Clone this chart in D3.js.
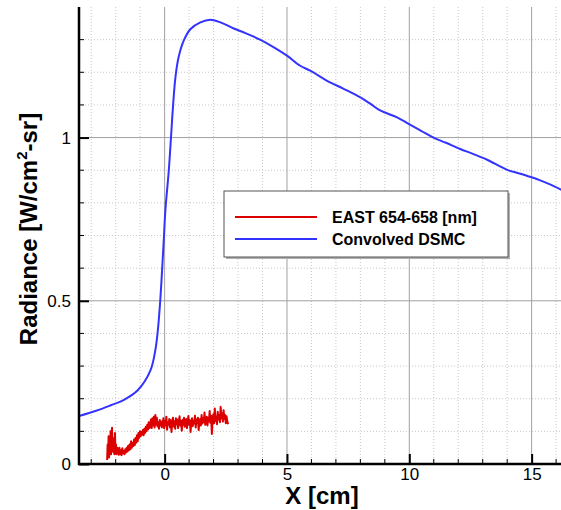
<!DOCTYPE html>
<html>
<head>
<meta charset="utf-8">
<script src="https://cdn.jsdelivr.net/npm/d3@7"></script>
<style>
  body { margin: 0; background: #fff; }
  svg { display: block; font-family: "Liberation Sans", Arial, sans-serif; }
</style>
</head>
<body>
<div id="chart"></div>
<script>
// Données
const seriesNames = ["EAST 654-658 [nm]", "Convolved DSMC"];

const dsmcX = [-3.5, -2.8, -2.2, -1.68, -1.1, -0.58, -0.38, -0.29, -0.18, -0.04, 0.03,
  0.17, 0.26, 0.34, 0.44, 0.57, 0.78, 1.05, 1.46, 1.87, 2.28, 2.8, 3.3, 3.9, 4.5, 5.0,
  5.54, 5.95, 6.64, 7.3, 8.0, 8.4, 8.81, 9.5, 9.97, 10.5, 10.99, 11.5, 12.08, 12.6, 13.18,
  14.0, 14.5, 14.97, 15.35, 15.8, 16.21];
const dsmcY = [0.147, 0.163, 0.18, 0.196, 0.226, 0.287, 0.349, 0.40, 0.50, 0.68, 0.777,
  0.899, 1.001, 1.093, 1.184, 1.246, 1.297, 1.332, 1.353, 1.361, 1.353, 1.335, 1.32, 1.30,
  1.275, 1.251, 1.22, 1.205, 1.174, 1.15, 1.123, 1.104, 1.083, 1.062, 1.042, 1.02, 1.0,
  0.984, 0.965, 0.95, 0.932, 0.901, 0.89, 0.879, 0.869, 0.855, 0.84];

// EAST : signal bruité, relevé point par point
const eastX = [-2.35, -2.33, -2.31, -2.29, -2.27, -2.25, -2.23, -2.21, -2.19, -2.17, -2.15,
  -2.13, -2.11, -2.09, -2.07, -2.05, -2.03, -2.01, -1.99, -1.97, -1.94,
  -1.91, -1.88, -1.85, -1.82, -1.79, -1.76, -1.73, -1.7, -1.67,
  -1.64, -1.61, -1.58, -1.55, -1.52, -1.49, -1.46, -1.43, -1.4, -1.37, -1.34, -1.31, -1.28,
  -1.25, -1.22, -1.19, -1.16, -1.13, -1.1, -1.07, -1.04, -1.01, -0.98, -0.95, -0.92, -0.89,
  -0.86, -0.83, -0.8, -0.77, -0.74, -0.71, -0.68, -0.65, -0.62, -0.59, -0.56, -0.53, -0.5,
  -0.47, -0.44, -0.41, -0.38, -0.35, -0.32, -0.29, -0.26, -0.23, -0.2, -0.17, -0.14, -0.11,
  -0.08, -0.05, -0.02, 0.01, 0.04, 0.07, 0.1, 0.13, 0.16, 0.19, 0.22, 0.25, 0.28, 0.31,
  0.34, 0.37, 0.4, 0.43, 0.46, 0.49, 0.52, 0.55, 0.58, 0.61, 0.64, 0.67, 0.7, 0.73, 0.76,
  0.79, 0.82, 0.85, 0.88, 0.91, 0.94, 0.97, 1.0, 1.03, 1.06, 1.09, 1.12, 1.15, 1.18, 1.21,
  1.24, 1.27, 1.3, 1.33, 1.36, 1.39, 1.42, 1.45, 1.48, 1.51, 1.54, 1.57, 1.6, 1.63, 1.66,
  1.69, 1.72, 1.75, 1.78, 1.81, 1.84, 1.87, 1.9, 1.93, 1.96, 1.99, 2.02, 2.05, 2.08, 2.11,
  2.14, 2.17, 2.2, 2.23, 2.26, 2.29, 2.32, 2.35, 2.38, 2.41, 2.44, 2.47, 2.5, 2.53, 2.56,
  2.59, 2.62, 2.65, 2.68];
const eastY = [0.012, 0.06, 0.03, 0.085, 0.02, 0.07, 0.04, 0.1, 0.03, 0.09, 0.111,
  0.04, 0.08, 0.035, 0.075, 0.03, 0.095, 0.04, 0.06, 0.03, 0.05,
  0.045, 0.028, 0.05, 0.03, 0.042, 0.027, 0.048, 0.033, 0.04,
  0.03, 0.045, 0.035, 0.05, 0.038, 0.056, 0.042, 0.06, 0.045, 0.07, 0.05, 0.064, 0.055,
  0.075, 0.058, 0.08, 0.065, 0.088, 0.07, 0.095, 0.08, 0.1, 0.085, 0.098, 0.09, 0.104,
  0.088, 0.108, 0.095, 0.114, 0.1, 0.12, 0.106, 0.128, 0.11, 0.122, 0.136, 0.11, 0.14,
  0.118, 0.145, 0.112, 0.15, 0.12, 0.142, 0.115, 0.127, 0.108, 0.135, 0.118, 0.13, 0.112,
  0.126, 0.14, 0.11, 0.132, 0.118, 0.145, 0.105, 0.128, 0.12, 0.138, 0.112, 0.134, 0.098,
  0.126, 0.142, 0.115, 0.13, 0.108, 0.14, 0.122, 0.136, 0.11, 0.128, 0.146, 0.118, 0.132,
  0.102, 0.135, 0.12, 0.142, 0.114, 0.128, 0.138, 0.11, 0.13, 0.147, 0.12, 0.134, 0.098,
  0.128, 0.14, 0.116, 0.132, 0.124, 0.148, 0.112, 0.136, 0.126, 0.142, 0.104, 0.13, 0.138,
  0.118, 0.15, 0.124, 0.14, 0.128, 0.158, 0.12, 0.136, 0.145, 0.118, 0.142, 0.13, 0.162,
  0.126, 0.148, 0.092, 0.138, 0.152, 0.125, 0.17, 0.132, 0.145, 0.122, 0.16, 0.136, 0.15,
  0.128, 0.175, 0.14, 0.155, 0.13, 0.165, 0.138, 0.15, 0.125, 0.146, 0.132, 0.122];

const xMajorTicks = [0, 5, 10, 15];
const yMajorTicks = [0, 0.5, 1];
const yTickLabels = ["0", "0.5", "1"];

const width = 561, height = 510;
const margin = { left: 79, right: 0, top: 7, bottom: 46 };

const svg = d3.select("#chart").append("svg")
  .attr("width", width)
  .attr("height", height);

const x = d3.scaleLinear().domain([-3.5, 16.2]).range([margin.left, width - margin.right]);
const y = d3.scaleLinear().domain([0, 1.4]).range([height - margin.bottom, margin.top]);

const x0 = margin.left, x1 = width - margin.right;
const y0 = height - margin.bottom, y1 = margin.top;

// grille mineure (pointillés)
const xMinor = d3.range(-3, 17, 1).filter(v => xMajorTicks.indexOf(v) < 0);
const yMinor = d3.range(1, 14).map(v => v / 10).filter(v => Math.abs(v - 0.5) > 1e-6 && Math.abs(v - 1) > 1e-6);

const grid = svg.append("g");
grid.selectAll(".vmin").data(xMinor).join("line")
  .attr("x1", d => x(d)).attr("x2", d => x(d))
  .attr("y1", y0).attr("y2", y1)
  .attr("stroke", "#c8c8c8").attr("stroke-width", 1).attr("stroke-dasharray", "1,2");
grid.selectAll(".hmin").data(yMinor).join("line")
  .attr("x1", x0).attr("x2", x1)
  .attr("y1", d => y(d)).attr("y2", d => y(d))
  .attr("stroke", "#c8c8c8").attr("stroke-width", 1).attr("stroke-dasharray", "1,2");

// grille majeure
grid.selectAll(".vmaj").data(xMajorTicks).join("line")
  .attr("x1", d => x(d)).attr("x2", d => x(d))
  .attr("y1", y0).attr("y2", y1)
  .attr("stroke", "#a0a0a0").attr("stroke-width", 1);
grid.selectAll(".hmaj").data(yMajorTicks.filter(d => d > 0)).join("line")
  .attr("x1", x0).attr("x2", x1)
  .attr("y1", d => y(d)).attr("y2", d => y(d))
  .attr("stroke", "#a0a0a0").attr("stroke-width", 1);

// courbes
svg.append("clipPath").attr("id", "clip")
  .append("rect").attr("x", x0).attr("y", y1).attr("width", x1 - x0).attr("height", y0 - y1);

svg.append("path")
  .datum(dsmcX.map((d, i) => [d, dsmcY[i]]))
  .attr("clip-path", "url(#clip)")
  .attr("fill", "none")
  .attr("stroke", "#3333ff")
  .attr("stroke-width", 2)
  .attr("d", d3.line().x(d => x(d[0])).y(d => y(d[1])).curve(d3.curveCatmullRom.alpha(0.5)));

svg.append("path")
  .datum(eastX.map((d, i) => [d, eastY[i]]))
  .attr("fill", "none")
  .attr("stroke", "#dd0000")
  .attr("stroke-width", 2)
  .attr("stroke-linejoin", "round")
  .attr("d", d3.line().x(d => x(d[0])).y(d => y(d[1])));

// axes
const xAxis = d3.axisBottom(x).tickValues(xMajorTicks).tickSize(-10).tickPadding(7).tickFormat(d3.format("d"));
const gx = svg.append("g").attr("transform", `translate(0,${y0})`).call(xAxis);
gx.select(".domain").remove();
gx.selectAll(".tick line").attr("stroke", "#000").attr("stroke-width", 2);
gx.selectAll(".tick text").attr("font-size", 17).attr("fill", "#000").attr("dy", "0.55em");
svg.append("g").selectAll("line").data(xMinor).join("line")
  .attr("x1", d => x(d)).attr("x2", d => x(d))
  .attr("y1", y0).attr("y2", y0 - 5)
  .attr("stroke", "#000").attr("stroke-width", 1);

const yAxis = d3.axisLeft(y).tickValues(yMajorTicks).tickSize(-10).tickPadding(8)
  .tickFormat((d, i) => yTickLabels[i]);
const gy = svg.append("g").attr("transform", `translate(${x0},0)`).call(yAxis);
gy.select(".domain").remove();
gy.selectAll(".tick line").attr("stroke", "#000").attr("stroke-width", 2);
gy.selectAll(".tick text").attr("font-size", 17).attr("fill", "#000");
svg.append("g").selectAll("line").data(yMinor).join("line")
  .attr("x1", x0).attr("x2", x0 + 5)
  .attr("y1", d => y(d)).attr("y2", d => y(d))
  .attr("stroke", "#000").attr("stroke-width", 1);

svg.append("line").attr("x1", x0).attr("x2", x0).attr("y1", y1).attr("y2", y0 + 1)
  .attr("stroke", "#000").attr("stroke-width", 2.5);
svg.append("line").attr("x1", x0 - 1).attr("x2", x1).attr("y1", y0).attr("y2", y0)
  .attr("stroke", "#000").attr("stroke-width", 2.5);

// titres des axes
svg.append("text")
  .attr("x", 322).attr("y", 504)
  .attr("text-anchor", "middle")
  .attr("font-size", 24).attr("font-weight", "bold")
  .text("X [cm]");

const yt = svg.append("text")
  .attr("transform", "translate(37,229) rotate(-90)")
  .attr("text-anchor", "middle")
  .attr("font-size", 24).attr("font-weight", "bold");
yt.append("tspan").text("Radiance [W/cm");
yt.append("tspan").attr("font-size", 15).attr("dy", -10).text("2");
yt.append("tspan").attr("dy", 10).text("-sr]");

// légende
const lg = svg.append("g");
lg.append("rect").attr("x", 226).attr("y", 193).attr("width", 284).attr("height", 66).attr("fill", "#b0b0b0");
lg.append("rect").attr("x", 224).attr("y", 191).attr("width", 284).attr("height", 66)
  .attr("fill", "#fff").attr("stroke", "#555").attr("stroke-width", 1);
const legColors = ["#dd0000", "#3333ff"];
seriesNames.forEach((name, i) => {
  const ly = 217 + i * 22;
  lg.append("line").attr("x1", 235).attr("x2", 317).attr("y1", ly).attr("y2", ly)
    .attr("stroke", legColors[i]).attr("stroke-width", 1.8);
  lg.append("text").attr("x", 332).attr("y", ly + 6)
    .attr("font-size", 16).attr("font-weight", "bold").text(name);
});
</script>
</body>
</html>
